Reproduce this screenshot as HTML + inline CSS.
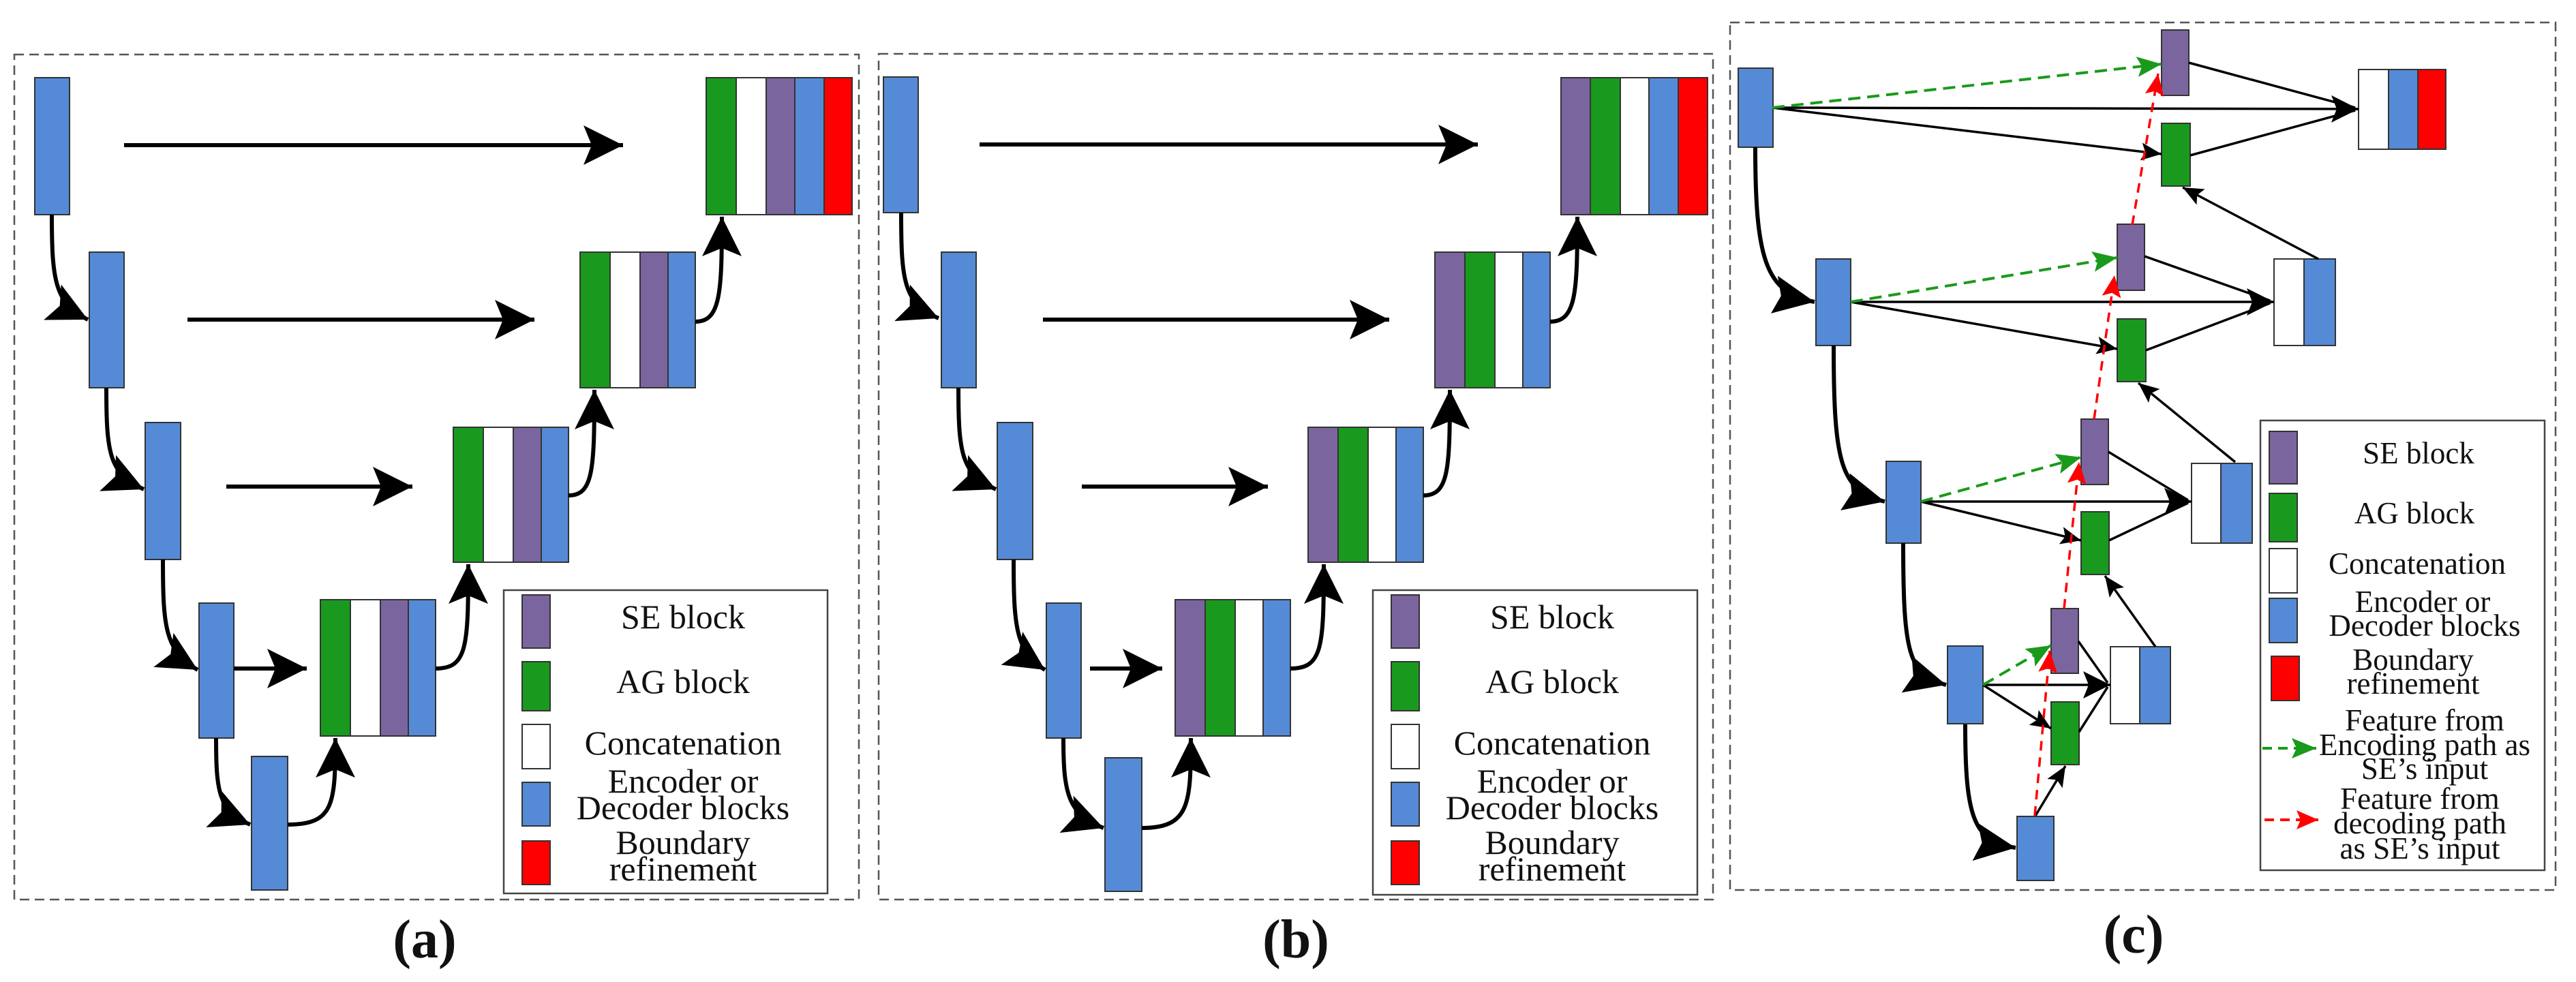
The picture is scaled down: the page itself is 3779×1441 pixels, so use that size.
<!DOCTYPE html>
<html><head><meta charset="utf-8"><style>
html,body{margin:0;padding:0;background:#fff;}
svg{display:block;}
svg text{font-family:"Liberation Serif","DejaVu Serif",serif;fill:#111;}
</style></head><body>
<svg width="3779" height="1441" viewBox="0 0 3779 1441" xmlns="http://www.w3.org/2000/svg">
<defs>
<marker id="hb" markerUnits="userSpaceOnUse" markerWidth="64" markerHeight="64" refX="58" refY="29" orient="auto"><path d="M0,0 L58,29 L0,58 L12,29z" fill="#000"/></marker>
<marker id="hc" markerUnits="userSpaceOnUse" markerWidth="64" markerHeight="64" refX="60" refY="28" orient="auto"><path d="M0,0 L60,28 L0,56 L10,28z" fill="#000"/></marker>
<marker id="hm" markerUnits="userSpaceOnUse" markerWidth="44" markerHeight="44" refX="40" refY="20" orient="auto"><path d="M0,0 L40,20 L0,40 L8,20z" fill="#000"/></marker>
<marker id="hs" markerUnits="userSpaceOnUse" markerWidth="34" markerHeight="34" refX="30" refY="13" orient="auto"><path d="M0,0 L30,13 L0,26 L6,13z" fill="#000"/></marker>
<marker id="hg" markerUnits="userSpaceOnUse" markerWidth="40" markerHeight="40" refX="36" refY="15" orient="auto"><path d="M0,0 L36,15 L0,30 L7,15z" fill="#1a9a1a"/></marker>
<marker id="hr" markerUnits="userSpaceOnUse" markerWidth="36" markerHeight="36" refX="32" refY="14" orient="auto"><path d="M0,0 L32,14 L0,28 L6,14z" fill="#ff0000"/></marker>
</defs>

<g fill="none" stroke="#555" stroke-width="2.5" stroke-dasharray="14 8">
<rect x="21" y="80" width="1239" height="1240"/>
<rect x="1289" y="79" width="1224" height="1241"/>
<rect x="2538" y="33" width="1211" height="1273"/>
</g>

<!-- ===== Panel A ===== -->
<g stroke="#333" stroke-width="2">
<g fill="#558bd6">
<rect x="51" y="114" width="51" height="201"/>
<rect x="131" y="370" width="51" height="199"/>
<rect x="213" y="620" width="52" height="201"/>
<rect x="292" y="885" width="51" height="198"/>
<rect x="369" y="1110" width="53" height="196"/>
</g>
<rect x="470" y="880" width="44" height="200" fill="#199a1e"/>
<rect x="514" y="880" width="44" height="200" fill="#fff"/>
<rect x="558" y="880" width="41" height="200" fill="#7b659e"/>
<rect x="599" y="880" width="40" height="200" fill="#558bd6"/>
<rect x="665" y="627" width="44" height="198" fill="#199a1e"/>
<rect x="709" y="627" width="44" height="198" fill="#fff"/>
<rect x="753" y="627" width="41" height="198" fill="#7b659e"/>
<rect x="794" y="627" width="40" height="198" fill="#558bd6"/>
<rect x="851" y="370" width="44" height="199" fill="#199a1e"/>
<rect x="895" y="370" width="44" height="199" fill="#fff"/>
<rect x="939" y="370" width="41" height="199" fill="#7b659e"/>
<rect x="980" y="370" width="40" height="199" fill="#558bd6"/>
<rect x="1036" y="114" width="44" height="201" fill="#199a1e"/>
<rect x="1080" y="114" width="44" height="201" fill="#fff"/>
<rect x="1124" y="114" width="42" height="201" fill="#7b659e"/>
<rect x="1166" y="114" width="43" height="201" fill="#558bd6"/>
<rect x="1209" y="114" width="41" height="201" fill="#ff0000"/>
</g>
<g stroke="#000" stroke-width="6" fill="none" marker-end="url(#hb)">
<line x1="182" y1="213" x2="914" y2="213"/>
<line x1="275" y1="469" x2="784" y2="469"/>
<line x1="332" y1="714" x2="605" y2="714"/>
<line x1="343" y1="981" x2="450" y2="981"/>
<path d="M76,315 C76,410 80,445 129,469"/>
<path d="M156,569 C156,665 160,695 211,718"/>
<path d="M239,821 C239,920 242,955 290,983"/>
<path d="M317,1083 C317,1160 320,1190 367,1210"/>
<path d="M422,1210 C490,1210 492,1180 492,1083"/>
<path d="M639,981 C685,981 687,950 687,828"/>
<path d="M834,727 C870,727 872,690 872,572"/>
<path d="M1020,472 C1057,472 1059,430 1059,318"/>
</g>
<rect x="739" y="866" width="475" height="445" fill="#fff" stroke="#444" stroke-width="2.5"/>
<g stroke="#333" stroke-width="2">
<rect x="766" y="873" width="41" height="78" fill="#7b659e"/>
<rect x="766" y="971" width="41" height="72" fill="#199a1e"/>
<rect x="766" y="1063" width="41" height="65" fill="#fff"/>
<rect x="766" y="1148" width="41" height="64" fill="#558bd6"/>
<rect x="766" y="1234" width="41" height="64" fill="#ff0000"/>
</g>
<g font-family="'Liberation Serif','DejaVu Serif',serif" font-size="50" text-anchor="middle" fill="#111">
<text x="1002" y="922">SE block</text>
<text x="1002" y="1017">AG block</text>
<text x="1002" y="1107">Concatenation</text>
<text x="1002" y="1163">Encoder or</text>
<text x="1002" y="1202">Decoder blocks</text>
<text x="1002" y="1253">Boundary</text>
<text x="1002" y="1292">refinement</text>
</g>
<text x="623" y="1405" font-family="'Liberation Serif','DejaVu Serif',serif" font-size="80" font-weight="bold" text-anchor="middle">(a)</text>

<!-- ===== Panel B ===== -->
<g transform="translate(1250,0)">
<g stroke="#333" stroke-width="2">
<g fill="#558bd6">
<rect x="46" y="113" width="51" height="199"/>
<rect x="131" y="370" width="51" height="199"/>
<rect x="213" y="620" width="52" height="201"/>
<rect x="285" y="885" width="51" height="198"/>
<rect x="371" y="1112" width="54" height="196"/>
</g>
<rect x="474" y="880" width="44" height="200" fill="#7b659e"/>
<rect x="518" y="880" width="44" height="200" fill="#199a1e"/>
<rect x="562" y="880" width="41" height="200" fill="#fff"/>
<rect x="603" y="880" width="40" height="200" fill="#558bd6"/>
<rect x="669" y="627" width="44" height="198" fill="#7b659e"/>
<rect x="713" y="627" width="44" height="198" fill="#199a1e"/>
<rect x="757" y="627" width="41" height="198" fill="#fff"/>
<rect x="798" y="627" width="40" height="198" fill="#558bd6"/>
<rect x="855" y="370" width="44" height="199" fill="#7b659e"/>
<rect x="899" y="370" width="44" height="199" fill="#199a1e"/>
<rect x="943" y="370" width="41" height="199" fill="#fff"/>
<rect x="984" y="370" width="40" height="199" fill="#558bd6"/>
<rect x="1040" y="114" width="43" height="201" fill="#7b659e"/>
<rect x="1083" y="114" width="44" height="201" fill="#199a1e"/>
<rect x="1127" y="114" width="42" height="201" fill="#fff"/>
<rect x="1169" y="114" width="43" height="201" fill="#558bd6"/>
<rect x="1212" y="114" width="43" height="201" fill="#ff0000"/>
</g>
<g stroke="#000" stroke-width="6" fill="none" marker-end="url(#hb)">
<line x1="187" y1="212" x2="918" y2="212"/>
<line x1="280" y1="469" x2="788" y2="469"/>
<line x1="337" y1="714" x2="610" y2="714"/>
<line x1="349" y1="981" x2="455" y2="981"/>
<path d="M72,312 C72,410 75,445 127,467"/>
<path d="M156,569 C156,665 160,695 211,718"/>
<path d="M237,821 C237,920 240,955 283,983"/>
<path d="M310,1083 C310,1160 315,1195 369,1215"/>
<path d="M425,1215 C495,1215 497,1180 497,1083"/>
<path d="M643,981 C690,981 692,950 692,828"/>
<path d="M838,727 C875,727 877,690 877,572"/>
<path d="M1024,472 C1062,472 1064,430 1064,318"/>
</g>
</g>
<rect x="2014" y="866" width="476" height="447" fill="#fff" stroke="#444" stroke-width="2.5"/>
<g stroke="#333" stroke-width="2">
<rect x="2041" y="873" width="41" height="78" fill="#7b659e"/>
<rect x="2041" y="971" width="41" height="72" fill="#199a1e"/>
<rect x="2041" y="1063" width="41" height="65" fill="#fff"/>
<rect x="2041" y="1148" width="41" height="64" fill="#558bd6"/>
<rect x="2041" y="1234" width="41" height="64" fill="#ff0000"/>
</g>
<g font-family="'Liberation Serif','DejaVu Serif',serif" font-size="50" text-anchor="middle" fill="#111">
<text x="2277" y="922">SE block</text>
<text x="2277" y="1017">AG block</text>
<text x="2277" y="1107">Concatenation</text>
<text x="2277" y="1163">Encoder or</text>
<text x="2277" y="1202">Decoder blocks</text>
<text x="2277" y="1253">Boundary</text>
<text x="2277" y="1292">refinement</text>
</g>
<text x="1901" y="1405" font-family="'Liberation Serif','DejaVu Serif',serif" font-size="80" font-weight="bold" text-anchor="middle">(b)</text>

<!-- ===== Panel C ===== -->
<g stroke="#333" stroke-width="2">
<g fill="#558bd6">
<rect x="2550" y="100" width="51" height="116"/>
<rect x="2664" y="380" width="51" height="127"/>
<rect x="2767" y="677" width="51" height="120"/>
<rect x="2857" y="948" width="52" height="114"/>
<rect x="2959" y="1198" width="54" height="94"/>
</g>
<g fill="#7b659e">
<rect x="3171" y="44" width="40" height="96"/>
<rect x="3106" y="329" width="40" height="97"/>
<rect x="3053" y="615" width="40" height="96"/>
<rect x="3009" y="893" width="40" height="95"/>
</g>
<g fill="#199a1e">
<rect x="3171" y="181" width="42" height="92"/>
<rect x="3106" y="468" width="42" height="92"/>
<rect x="3053" y="751" width="41" height="92"/>
<rect x="3009" y="1030" width="41" height="92"/>
</g>
<rect x="3460" y="102" width="44" height="117" fill="#fff"/>
<rect x="3504" y="102" width="43" height="117" fill="#558bd6"/>
<rect x="3547" y="102" width="41" height="117" fill="#ff0000"/>
<rect x="3336" y="380" width="44" height="127" fill="#fff"/>
<rect x="3380" y="380" width="46" height="127" fill="#558bd6"/>
<rect x="3215" y="680" width="43" height="117" fill="#fff"/>
<rect x="3258" y="680" width="46" height="117" fill="#558bd6"/>
<rect x="3096" y="949" width="43" height="113" fill="#fff"/>
<rect x="3139" y="949" width="45" height="113" fill="#558bd6"/>
</g>
<g stroke="#000" stroke-width="3.5" fill="none">
<line x1="2600" y1="158" x2="3460" y2="160" marker-end="url(#hm)"/>
<line x1="2600" y1="158" x2="3171" y2="226" marker-end="url(#hs)"/>
<line x1="3211" y1="92" x2="3455" y2="158"/>
<line x1="3213" y1="228" x2="3455" y2="162"/>
<line x1="3401" y1="380" x2="3202" y2="275" marker-end="url(#hs)"/>
<line x1="2715" y1="443" x2="3336" y2="443" marker-end="url(#hm)"/>
<line x1="2715" y1="443" x2="3106" y2="512" marker-end="url(#hs)"/>
<line x1="3146" y1="376" x2="3330" y2="441"/>
<line x1="3148" y1="514" x2="3330" y2="445"/>
<line x1="3279" y1="678" x2="3137" y2="562" marker-end="url(#hs)"/>
<line x1="2818" y1="736" x2="3215" y2="736" marker-end="url(#hm)"/>
<line x1="2818" y1="736" x2="3053" y2="793" marker-end="url(#hs)"/>
<line x1="3093" y1="663" x2="3210" y2="734"/>
<line x1="3094" y1="793" x2="3210" y2="738"/>
<line x1="3162" y1="949" x2="3088" y2="845" marker-end="url(#hs)"/>
<line x1="2909" y1="1005" x2="3096" y2="1005" marker-end="url(#hm)"/>
<line x1="2909" y1="1005" x2="3009" y2="1069" marker-end="url(#hs)"/>
<line x1="3049" y1="941" x2="3092" y2="1002"/>
<line x1="3050" y1="1074" x2="3092" y2="1008"/>
<line x1="2986" y1="1197" x2="3030" y2="1124" marker-end="url(#hs)"/>
</g>
<g stroke="#000" stroke-width="6" fill="none" marker-end="url(#hc)">
<path d="M2575,216 C2575,380 2590,430 2662,443"/>
<path d="M2690,507 C2690,680 2700,720 2765,736"/>
<path d="M2792,797 C2792,960 2800,990 2855,1005"/>
<path d="M2883,1063 C2883,1200 2895,1235 2957,1244"/>
</g>
<g stroke="#1a9a1a" stroke-width="4" fill="none" stroke-dasharray="18 10" marker-end="url(#hg)">
<line x1="2600" y1="158" x2="3171" y2="94"/>
<line x1="2715" y1="443" x2="3106" y2="378"/>
<line x1="2818" y1="736" x2="3053" y2="671"/>
<line x1="2909" y1="1005" x2="3009" y2="947"/>
</g>
<g stroke="#ff0000" stroke-width="3.5" fill="none" stroke-dasharray="14 10" marker-end="url(#hr)">
<line x1="3128" y1="330" x2="3166" y2="108"/>
<line x1="3072" y1="615" x2="3102" y2="404"/>
<line x1="3028" y1="893" x2="3050" y2="678"/>
<line x1="2985" y1="1197" x2="3007" y2="955"/>
</g>
<rect x="3316" y="617" width="417" height="660" fill="#fff" stroke="#444" stroke-width="2.5"/>
<g stroke="#333" stroke-width="2">
<rect x="3329" y="633" width="41" height="77" fill="#7b659e"/>
<rect x="3329" y="724" width="41" height="71" fill="#199a1e"/>
<rect x="3329" y="805" width="41" height="65" fill="#fff"/>
<rect x="3329" y="878" width="41" height="65" fill="#558bd6"/>
<rect x="3332" y="963" width="41" height="65" fill="#ff0000"/>
</g>
<g font-family="'Liberation Serif','DejaVu Serif',serif" font-size="45" text-anchor="middle" fill="#111">
<text x="3548" y="680">SE block</text>
<text x="3542" y="768">AG block</text>
<text x="3546" y="842">Concatenation</text>
<text x="3554" y="898">Encoder or</text>
<text x="3557" y="933">Decoder blocks</text>
<text x="3540" y="983">Boundary</text>
<text x="3540" y="1018">refinement</text>
<text x="3557" y="1072">Feature from</text>
<text x="3557" y="1108">Encoding path as</text>
<text x="3557" y="1143">SE’s input</text>
<text x="3550" y="1187">Feature from</text>
<text x="3550" y="1223">decoding path</text>
<text x="3550" y="1260">as SE’s input</text>
</g>
<line x1="3319" y1="1098" x2="3398" y2="1098" stroke="#1a9a1a" stroke-width="4" stroke-dasharray="14 9" marker-end="url(#hg)"/>
<line x1="3322" y1="1203" x2="3401" y2="1203" stroke="#ff0000" stroke-width="4" stroke-dasharray="14 9" marker-end="url(#hr)"/>
<text x="3130" y="1398" font-family="'Liberation Serif','DejaVu Serif',serif" font-size="80" font-weight="bold" text-anchor="middle">(c)</text>
</svg>
</body></html>
